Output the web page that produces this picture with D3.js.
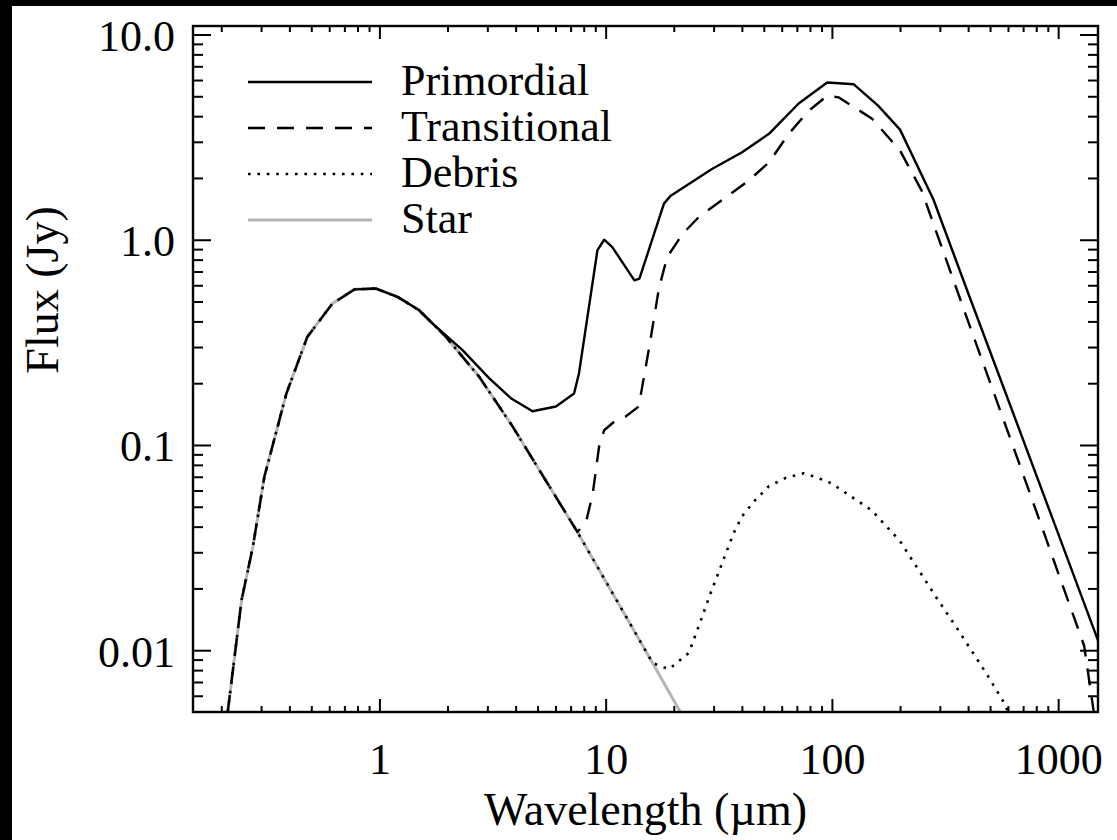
<!DOCTYPE html>
<html>
<head>
<meta charset="utf-8">
<script src="https://cdn.jsdelivr.net/npm/d3@7"></script>
<style>
  body { margin: 0; background: #000; }
  svg { display: block; }
  text { font-family: "Liberation Serif", "Times New Roman", Tinos, "Nimbus Roman", "Noto Serif", "DejaVu Serif", serif; fill: #000; }
</style>
</head>
<body>
<svg id="svg1" width="1117" height="840"></svg>
<script>
// axis ticks and labels
const xTicks = [1, 10, 100, 1000];
const xTickLabels = ["1", "10", "100", "1000"];
const yTicks = [0.01, 0.1, 1, 10];
const yTickLabels = ["0.01", "0.1", "1.0", "10.0"];
const xDomain = [0.15, 1500];
const yDomain = [0.005, 11];

const seriesNames = ["Primordial", "Transitional", "Debris", "Star"];

// star photosphere
const starWave = [0.2136, 0.246, 0.276, 0.31, 0.388, 0.48, 0.62, 0.776, 0.967, 1.205, 1.5, 1.97, 2.76, 3.88, 5.09, 7.5, 10, 16.1, 21.6, 25];
const starFlux = [0.005, 0.0176, 0.032, 0.070, 0.178, 0.336, 0.489, 0.573, 0.578, 0.526, 0.453, 0.336, 0.215, 0.123, 0.0755, 0.0377, 0.0217, 0.0087, 0.0049, 0.0037];

// primordial disk (joins the star near its peak)
const primWave = [0.776, 0.967, 1.205, 1.5, 1.72, 2.33, 3.06, 3.81, 4.75, 6.03, 7.25, 7.62, 9.2, 9.85, 10.7, 13.4, 14.1, 18.1, 19.4, 29.5, 40.1, 52.7, 71.3, 95.3, 125, 160, 200, 281, 400, 600, 1000, 1517];
const primFlux = [0.573, 0.578, 0.526, 0.453, 0.39, 0.29, 0.211, 0.169, 0.146, 0.154, 0.178, 0.223, 0.89, 1.0, 0.92, 0.634, 0.646, 1.50, 1.64, 2.21, 2.67, 3.28, 4.61, 5.84, 5.72, 4.5, 3.44, 1.57, 0.55, 0.167, 0.037, 0.0108];

// transitional disk
const transWave = [0.2136, 0.246, 0.276, 0.31, 0.388, 0.48, 0.62, 0.776, 0.967, 1.205, 1.5, 1.97, 2.76, 3.88, 5.09, 7.5, 8.2, 8.77, 9.35, 9.85, 11.1, 12.3, 14.0, 15.5, 17.2, 18.7, 21.9, 25.8, 34.0, 42.8, 52.7, 64.4, 79, 95.3, 107, 150, 200, 249, 400, 700, 1303, 1480];
const transFlux = [0.005, 0.0176, 0.032, 0.070, 0.178, 0.336, 0.489, 0.573, 0.578, 0.526, 0.453, 0.336, 0.215, 0.123, 0.0755, 0.0377, 0.0424, 0.058, 0.098, 0.118, 0.132, 0.138, 0.154, 0.29, 0.58, 0.823, 1.07, 1.29, 1.61, 1.94, 2.38, 3.28, 4.25, 5.03, 4.94, 3.9, 2.72, 1.74, 0.40, 0.072, 0.0105, 0.004];

// debris disk
const debWave = [0.2136, 0.246, 0.276, 0.31, 0.388, 0.48, 0.62, 0.776, 0.967, 1.205, 1.5, 1.97, 2.76, 3.88, 5.09, 7.5, 10, 16.1, 17.2, 19.1, 23.3, 25.8, 29.1, 32.3, 36.7, 40.1, 45.9, 52.7, 62.2, 75.1, 84.1, 99.6, 150, 200, 294, 349, 413, 489, 579, 610];
const debFlux = [0.005, 0.0176, 0.032, 0.070, 0.178, 0.336, 0.489, 0.573, 0.578, 0.526, 0.453, 0.336, 0.215, 0.123, 0.0755, 0.0377, 0.0217, 0.0087, 0.0084, 0.0081, 0.0097, 0.0131, 0.019, 0.0256, 0.037, 0.045, 0.054, 0.063, 0.069, 0.0729, 0.070, 0.065, 0.048, 0.034, 0.0176, 0.0133, 0.010, 0.0075, 0.0055, 0.0048];

var svg = d3.select("#svg1"),
    margin = {top: 26, right: 19, bottom: 128, left: 193},
    width = +svg.attr("width") - margin.left - margin.right,
    height = +svg.attr("height") - margin.top - margin.bottom;

// black frame round the picture, white page inside
svg.append("rect").attr("x", 12).attr("y", 6).attr("width", 1117 - 12).attr("height", 840 - 6).attr("fill", "#fff");

var g = svg.append("g").attr("transform", "translate(" + margin.left + "," + margin.top + ")");

var x = d3.scaleLog().domain(xDomain).range([0, width]);
var y = d3.scaleLog().domain(yDomain).range([height, 0]);

function minorTicks(domain, decades) {
  var out = [];
  decades.forEach(function(d) {
    for (var k = 2; k <= 9; k++) {
      var v = d * k;
      if (v > domain[0] && v < domain[1]) out.push(v);
    }
  });
  return out;
}
var xMinor = minorTicks(xDomain, [0.1, 1, 10, 100, 1000]);
var yMinor = minorTicks(yDomain, [0.001, 0.01, 0.1, 1, 10]);

function styleAxis(sel) {
  sel.select(".domain").remove();
  sel.attr("font-family", null);
  sel.selectAll("line").attr("stroke", "#000").attr("stroke-width", 2);
}

// bottom
g.append("g").attr("transform", "translate(0," + height + ")")
  .call(d3.axisBottom(x).tickValues(xMinor).tickSize(-6).tickFormat(""))
  .call(styleAxis);
g.append("g").attr("transform", "translate(0," + height + ")")
  .call(d3.axisBottom(x).tickValues(xTicks).tickSize(-13).tickFormat((d, i) => xTickLabels[i]))
  .call(styleAxis)
  .selectAll("text")
    .attr("y", 62).attr("dy", null)
    .style("font-size", "44px");
// top
g.append("g")
  .call(d3.axisTop(x).tickValues(xMinor).tickSize(-6).tickFormat(""))
  .call(styleAxis);
g.append("g")
  .call(d3.axisTop(x).tickValues(xTicks).tickSize(-13).tickFormat(""))
  .call(styleAxis);
// left
g.append("g")
  .call(d3.axisLeft(y).tickValues(yMinor).tickSize(-10).tickFormat(""))
  .call(styleAxis);
g.append("g")
  .call(d3.axisLeft(y).tickValues(yTicks).tickSize(-18).tickFormat((d, i) => yTickLabels[i]))
  .call(styleAxis)
  .selectAll("text")
    .attr("x", -18).attr("dy", "0.36em")
    .style("font-size", "44px");
// right
g.append("g").attr("transform", "translate(" + width + ",0)")
  .call(d3.axisRight(y).tickValues(yMinor).tickSize(-10).tickFormat(""))
  .call(styleAxis);
g.append("g").attr("transform", "translate(" + width + ",0)")
  .call(d3.axisRight(y).tickValues(yTicks).tickSize(-18).tickFormat(""))
  .call(styleAxis);

g.append("clipPath").attr("id", "clip")
  .append("rect").attr("width", width).attr("height", height);

var line = d3.line()
  .x((d) => x(d[0]))
  .y((d) => y(d[1]));

function pairs(w, f) { return w.map((v, i) => [v, f[i]]); }

var series = [
  {data: pairs(starWave, starFlux), stroke: "#b5b5b5", width: 3, dash: null},
  {data: pairs(primWave, primFlux), stroke: "#000", width: 2.4, dash: null},
  {data: pairs(transWave, transFlux), stroke: "#000", width: 2.4, dash: "17 12"},
  {data: pairs(debWave, debFlux), stroke: "#000", width: 2.6, dash: "2.6 6.8"}
];

g.append("g").attr("clip-path", "url(#clip)")
  .selectAll("path")
  .data(series)
  .join("path")
    .attr("fill", "none")
    .attr("stroke", (d) => d.stroke)
    .attr("stroke-width", (d) => d.width)
    .attr("stroke-dasharray", (d) => d.dash)
    .attr("stroke-linejoin", "round")
    .attr("d", (d) => line(d.data));

// frame
g.append("rect").attr("width", width).attr("height", height)
  .attr("fill", "none").attr("stroke", "#000").attr("stroke-width", 2.4);

// legend
var legendStyles = [
  {stroke: "#000", width: 2.4, dash: null},
  {stroke: "#000", width: 2.4, dash: "17 12"},
  {stroke: "#000", width: 2.6, dash: "2.6 6.8"},
  {stroke: "#b5b5b5", width: 3, dash: null}
];
var legend = svg.append("g");
seriesNames.forEach(function(name, i) {
  var by = 95 + i * 46;
  legend.append("line")
    .attr("x1", 248).attr("x2", 372)
    .attr("y1", by - 13).attr("y2", by - 13)
    .attr("stroke", legendStyles[i].stroke)
    .attr("stroke-width", legendStyles[i].width)
    .attr("stroke-dasharray", legendStyles[i].dash);
  legend.append("text")
    .attr("x", 401).attr("y", by)
    .style("font-size", "44px")
    .text(name);
});

// axis titles
svg.append("text")
  .attr("x", margin.left + width / 2).attr("y", 825)
  .attr("text-anchor", "middle")
  .style("font-size", "46px")
  .text("Wavelength (µm)");
svg.append("text")
  .attr("transform", "translate(58,290) rotate(-90)")
  .attr("text-anchor", "middle")
  .style("font-size", "46px")
  .text("Flux (Jy)");
</script>
</body>
</html>
